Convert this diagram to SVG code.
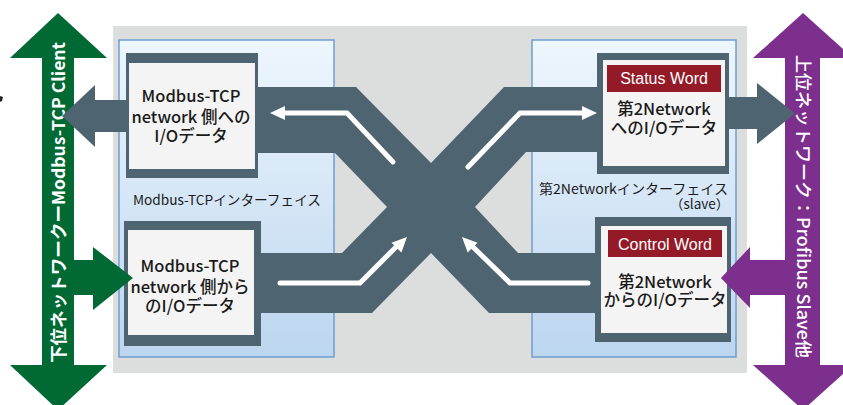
<svg xmlns="http://www.w3.org/2000/svg" width="843" height="405" viewBox="0 0 843 405">
<defs>
<linearGradient id="panelGrad" x1="0" y1="0" x2="0" y2="1">
<stop offset="0" stop-color="#eef6fd"/>
<stop offset="1" stop-color="#bcd6ef"/>
</linearGradient>
<style>
.panel{fill:url(#panelGrad);stroke:#6f9fcf;stroke-width:1.5}
.frame{fill:#4e6470}
.inner{fill:#f4f4f4}
.dark{fill:#4e6470}
.tag{fill:#931a26}
.wline{fill:none;stroke:#ffffff;stroke-width:5;stroke-linecap:round;stroke-linejoin:miter}
.whead{fill:#ffffff}
.green{fill:#006934}
.purple{fill:#7d2f8e}
.ntext{font-family:"Noto Sans CJK JP","Noto Sans",sans-serif;font-size:16.5px;font-weight:500;fill:#1a1a1a;text-anchor:middle}
.tagtext{font-family:"Liberation Sans",Arial,sans-serif;font-size:16px;fill:#ffffff;text-anchor:middle}
.ptext{font-family:"Noto Sans CJK JP","Noto Sans",sans-serif;font-size:13.5px;fill:#1a1a1a}
.vtext{font-family:"Noto Sans CJK JP","Noto Sans",sans-serif;font-size:17px;font-weight:700;fill:#ffffff}
</style>
</defs>

<rect x="0" y="0" width="843" height="405" fill="#ffffff"/>
<path d="M0,96 L3,97 L2,101 L0,102 Z" fill="#222222"/>

<g id="background">
<rect x="113" y="26" width="634" height="347" fill="#dcdddd"/>
</g>

<g id="panel-modbus">
<rect class="panel" x="119" y="40" width="215" height="317"/>
<text class="ptext" x="133" y="205" textLength="188" lengthAdjust="spacingAndGlyphs">Modbus-TCPインターフェイス</text>
</g>
<g id="panel-second">
<rect class="panel" x="532" y="40" width="204" height="317"/>
<text class="ptext" x="539" y="194" textLength="189" lengthAdjust="spacingAndGlyphs">第2Networkインターフェイス</text>
<text class="ptext" x="670" y="209">（slave）</text>
</g>

<g id="connectors">
<polygon class="dark" points="250,87 356,87 431,163 504,87 605,87 605,152 526,152 475,207 518,253 605,253 605,313 489,313 431,253 372,313 250,313 250,253 342,253 387,207 335,153 250,153"/>
</g>

<g id="node-modbus-out">
<rect class="frame" x="126" y="53" width="132" height="125"/>
<rect class="inner" x="129" y="63" width="126" height="106"/>
<text class="ntext" x="191" y="102">Modbus-TCP</text>
<text class="ntext" x="191" y="123">network 側への</text>
<text class="ntext" x="191" y="142">I/Oデータ</text>
</g>

<g id="node-modbus-in">
<rect class="frame" x="124" y="221" width="137" height="125"/>
<rect class="inner" x="128" y="230" width="126" height="105"/>
<text class="ntext" x="190" y="272">Modbus-TCP</text>
<text class="ntext" x="190" y="293">network 側から</text>
<text class="ntext" x="190" y="312">のI/Oデータ</text>
</g>

<g id="node-status">
<rect class="frame" x="597" y="53" width="132" height="121"/>
<rect class="inner" x="603" y="60" width="122" height="106"/>
<rect class="tag" x="607" y="65" width="114" height="27"/>
<text class="tagtext" x="664" y="84">Status Word</text>
<text class="ntext" x="664" y="115">第2Network</text>
<text class="ntext" x="664" y="134">へのI/Oデータ</text>
</g>

<g id="node-control">
<rect class="frame" x="595" y="217" width="136" height="125"/>
<rect class="inner" x="601" y="226" width="126" height="107"/>
<rect class="tag" x="608" y="230" width="114" height="27"/>
<text class="tagtext" x="665" y="250">Control Word</text>
<text class="ntext" x="665" y="288">第2Network</text>
<text class="ntext" x="665" y="306">からのI/Oデータ</text>
</g>

<g id="bus-lower">
<rect class="green" x="42" y="57" width="32" height="309"/>
<polygon class="green" points="10,58 58,13 107,58"/>
<polygon class="green" points="10,365 58,410 107,365"/>
<polygon class="green" points="73,260 93,260 93,247 133,278 93,310 93,295 73,295"/>
<text class="vtext" transform="translate(64.5,363) rotate(-90)" textLength="321" lengthAdjust="spacingAndGlyphs">下位ネットワークーModbus-TCP Client</text>
</g>

<g id="bus-upper">
<rect class="purple" x="785" y="57" width="35" height="309"/>
<polygon class="purple" points="753,58 803,13 853,58"/>
<polygon class="purple" points="753,365 803,410 853,365"/>
<polygon class="purple" points="786,260 750,260 750,247 721,278 750,308 750,295 786,295"/>
<text class="vtext" style="font-weight:500" transform="translate(796.5,55) rotate(90)" textLength="303" lengthAdjust="spacingAndGlyphs">上位ネットワーク：Profibus Slave他</text>
</g>

<g id="flow-arrows">
<polygon class="dark" points="127,100 95,100 95,85 62,116 95,147 95,132 127,132"/>
<polygon class="dark" points="726,97 757,97 757,83 795,113.5 757,144 757,129 726,129"/>
<path class="wline" d="M393,162 L347,113 L283,113"/>
<polygon class="whead" points="270,113 285,106 285,120"/>
<path class="wline" d="M468,167 L520,113 L584,113"/>
<polygon class="whead" points="597,113 582,106 582,120"/>
<path class="wline" d="M280,283 L360,283 L397,246"/>
<polygon class="whead" points="407,237 391.5,242.7 401.4,252.6"/>
<path class="wline" d="M588,283 L510,283 L472,246"/>
<polygon class="whead" points="462,237 477.5,242.7 467.7,252.6"/>
</g>
</svg>
